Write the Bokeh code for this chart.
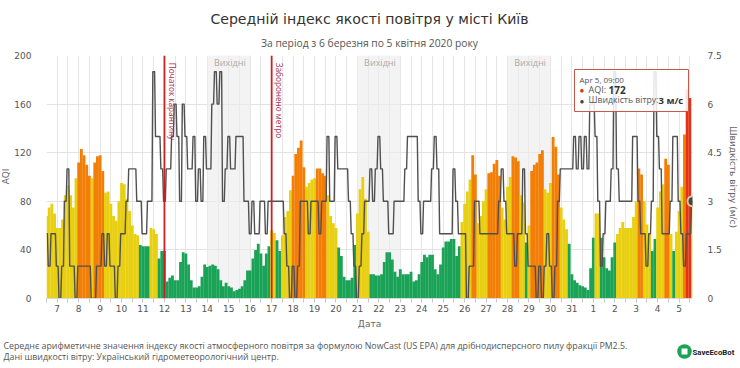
from bokeh.plotting import figure
from bokeh.models import (Range1d, LinearAxis, FixedTicker, BoxAnnotation, Span)
from bokeh.core.properties import value
from bokeh.embed import file_html
from bokeh.resources import INLINE
import numpy as np

title = "Середній індекс якості повітря у місті Київ"
subtitle = "За період з 6 березня по 5 квітня 2020 року"
notes = ["Середнє арифметичне значення індексу якості атмосферного повітря за формулою NowCast (US EPA) для дрібнодисперсного пилу фракції PM2.5.",
         "Дані швидкості вітру: Український гідрометеорологічний центр."]
day_labels = ["7","8","9","10","11","12","13","14","15","16","17","18","19","20","21","22","23","24","25","26","27","28","29","30","31","1","2","3","4","5"]
weekends = [(14, 16), (21, 23), (28, 30)]
events = [(12, "Початок карантину"), (17, "Заборонено метро")]

# AQI every 3 hours from 6 March 12:00 (x in days of March)
aqi = [68,75,78,70,58,58,65,85,93,85,75,99,112,123,118,110,101,99,112,117,118,105,87,88,78,68,64,80,95,94,82,72,60,53,52,44,43,43,43,58,57,53,33,39,39,14,17,19,15,15,30,38,37,28,15,9,9,10,18,28,26,27,28,27,24,15,10,13,10,9,6,7,8,10,15,
       23,23,33,40,45,37,27,37,43,56,54,48,39,52,67,72,89,101,119,124,130,108,92,95,98,99,107,107,103,101,85,68,62,58,42,35,18,15,15,17,44,70,90,100,82,55,20,20,19,19,20,30,38,38,32,22,18,24,20,20,20,22,14,15,20,30,36,34,36,36,24,20,28,42,47,47,49,49,35,43,63,78,88,98,118,102,62,68,80,90,
       103,104,111,114,101,75,65,92,100,117,116,113,85,79,46,60,105,110,112,119,122,90,87,95,133,125,102,75,65,57,45,20,15,13,11,10,9,7,25,50,70,70,50,34,25,23,34,46,53,58,63,58,58,58,67,80,107,102,80,61,53,39,49,75,88,94,115,110,53,39,55,72,92,135,172,165,80]
# Wind speed, m/s, every 3 hours
wind = [2,1,2,2,1,0,1,3,4,1,1,0,1,1,1,1,1,0,0,1,1,2,1,2,1,1,0,1,2,2,3,4,4,4,3,3,2,2,3,3,7,5,5,4,3,4,4,5,6,5,3,6,5,4,4,5,3,4,3,5,4,4,6,7,6,7,3,4,5,4,4,5,5,5,
        3,3,2,3,2,2,3,3,2,3,3,3,3,3,3,2,1,0,1,0,1,3,3,3,2,3,3,3,2,3,3,5,3,3,5,4,4,4,4,3,2,1,0,1,2,3,3,4,3,4,5,4,3,3,2,2,3,3,3,3,4,5,5,5,5,3,2,3,3,3,4,5,4,2,2,2,2,2,4,3,2,2,2,0,1,1,3,3,2,2,2,
        2,2,2,2,3,4,3,2,2,2,1,2,2,4,2,1,1,1,0,1,0,1,2,1,0,1,3,4,4,4,4,4,5,4,5,4,5,4,6,6,5,3,1,2,3,3,4,7,4,3,3,3,3,3,5,5,3,2,2,1,2,3,7,5,4,2,2,2,3,5,5,3,2,1,2,2,3]
GREEN, YELLOW, ORANGE, RED = "#1aa357", "#e8cf10", "#f37e06", "#e63214"
START, END = 6.5, 36.625
STEP = 1/8
FONT = "DejaVu Sans"
SANS = "Open Sans"

p = figure(width=740, height=368, x_range=Range1d(START, END), y_range=Range1d(0, 200),
           output_backend="svg", toolbar_location=None, min_border_left=46, min_border_right=43,
           min_border_top=55, min_border_bottom=70, background_fill_color="white", outline_line_color=None)
p.styles = {"position": "absolute", "left": "0", "top": "0"}
p.extra_y_ranges = {"wind": Range1d(0, 7.5)}

for a, b in weekends:
    p.add_layout(BoxAnnotation(left=a, right=b, fill_color="#ececec", fill_alpha=0.65, line_color=None, level="underlay"))

x_aqi = START + STEP*np.arange(len(aqi))
def colour(v):
    return GREEN if v <= 50 else YELLOW if v <= 100 else ORANGE if v <= 150 else RED
p.vbar(x=x_aqi, top=aqi, width=STEP*1.06, bottom=0, color=[colour(v) for v in aqi], line_color=None)

t_wind = START + STEP*np.arange(len(wind))
xw = np.clip(np.repeat(t_wind, 2) + np.tile([-1/24, 1/24], len(wind)), START, None)
yw = np.repeat(wind, 2)
xw[-1] = t_wind[-1]
p.line(xw, yw, y_range_name="wind", line_color="#505050", line_width=1.4, line_join="round")
p.scatter([t_wind[-1]], [wind[-1]], y_range_name="wind", size=10, fill_color="#444444",
          line_color="#d9d2a8", line_width=2)

for d, txt in events:
    p.add_layout(Span(location=d, dimension="height", line_color="#cc1f24", line_width=1.8))
    p.text([d+0.1], [194], text=[txt], angle=-np.pi/2, text_font=value(SANS), text_font_size="8.2px", text_color="#a8324f",
           text_baseline="bottom", text_align="left")
for a, b in weekends:
    p.text([(a+b)/2 + 0.05], [194], text=["Вихідні"], text_font=value(SANS), text_font_size="9px", text_color="#aaaaaa",
           text_align="center", text_baseline="middle")

ticks = list(np.arange(6.5, 36.6, 0.5))
ax = p.xaxis[0]
ax.ticker = FixedTicker(ticks=ticks)
overrides = {float(t): "" for t in ticks}
for i, lab_ in enumerate(day_labels):
    overrides[float(7+i)] = lab_
ax.major_label_overrides = overrides
ax.axis_label = "Дата"
ax.axis_label_standoff = 4
ax.major_label_standoff = 2
ax.axis_line_color = "#d8d8d8"
ax.major_tick_line_color = "#c8c8c8"
ax.major_tick_out = 4
ax.major_tick_in = 0
ax.minor_tick_line_color = None
p.xgrid[0].grid_line_color = "#e6e6e6"
p.xgrid[0].level = "underlay"
p.ygrid[0].grid_line_color = "#e3e3e3"
p.ygrid[0].level = "underlay"
p.ygrid[0].ticker = FixedTicker(ticks=list(range(0, 201, 40)))

ly = p.yaxis[0]
ly.ticker = FixedTicker(ticks=list(range(0, 201, 40)))
ry = LinearAxis(y_range_name="wind", ticker=FixedTicker(ticks=[0, 1.5, 3, 4.5, 6, 7.5]))
ry.major_label_overrides = {0: "0", 1.5: "1.5", 3: "3", 4.5: "4.5", 6: "6", 7.5: "7.5"}
p.add_layout(ry, "right")
ry.axis_label = "Швидкість вітру (м/с)"
for axis in (ly, ry):
    axis.axis_line_color = None
    axis.major_tick_line_color = None
    axis.major_tick_out = 0
    axis.major_tick_in = 0
    axis.minor_tick_out = 0
    axis.minor_tick_line_color = None
for axis in (ax, ly, ry):
    axis.axis_label_text_font = FONT
    axis.axis_label_text_font_size = "9px"
    axis.axis_label_text_font_style = "normal"
    axis.axis_label_text_color = "#666666"
    axis.major_label_text_font = FONT
    axis.major_label_text_font_size = "9px"
    axis.major_label_text_color = "#555555"
ly.major_label_standoff = 15
ry.major_label_standoff = 15
ry.axis_label_standoff = 3

# Top sheet in page pixels: title, notes, tooltip, logo
q = figure(width=740, height=368, x_range=Range1d(0, 740), y_range=Range1d(368, 0), x_axis_type=None, y_axis_type=None,
           output_backend="svg", toolbar_location=None, min_border=0, background_fill_color=None,
           border_fill_color=None, outline_line_color=None)
q.styles = {"position": "absolute", "left": "0", "top": "0", "pointer-events": "none"}
q.grid.visible = False

def lab(X, Y, text, size=10, color="#444444", style="normal", align="left", font=SANS, angle=0):
    q.text([X], [Y], text=[text], text_font=value(font), text_font_size=f"{size}px", text_color=color,
           text_font_style=style, text_align=align, text_baseline="middle", angle=angle)

lab(369, 18, title, size=14.1, color="#333333", align="center", font=FONT)
lab(369, 42, subtitle, size=10.3, color="#555555", align="center")
lab(5, 176, "AQI", size=9, color="#666666", align="center", font=FONT, angle=np.pi/2)
lab(3, 345, notes[0], size=8.8, color="#555555")
lab(3, 356, notes[1], size=8.8, color="#555555")

# tooltip
q.quad(left=574, right=688, top=69, bottom=111, fill_color="white", fill_alpha=0.85, line_color="#c8574c", line_width=1)
lab(579, 79, "Apr 5, 09:00", size=8, color="#555555")
lab(579, 89, "●", size=8, color="#d9301c")
lab(588, 89, "AQI:", size=9, color="#555555")
lab(608, 89, "172", size=10, color="#333333", style="bold")
lab(579, 99.5, "●", size=8, color="#444444")
lab(588, 99.5, "Швидкість вітру:", size=8.7, color="#555555")
lab(658, 99.5, "3 м/с", size=9.5, color="#333333", style="bold")

# logo
q.ellipse(x=[684], y=[351], width=[14.5], height=[14.5], fill_color="#1aa357", line_color=None)
q.quad(left=681, right=687, top=348, bottom=354, fill_color="white", line_color=None)
lab(692, 351.5, "SaveEcoBot", size=7.8, color="#222222", style="bold", font="Roboto")

open("out.html", "w").write(file_html([p, q], INLINE))
